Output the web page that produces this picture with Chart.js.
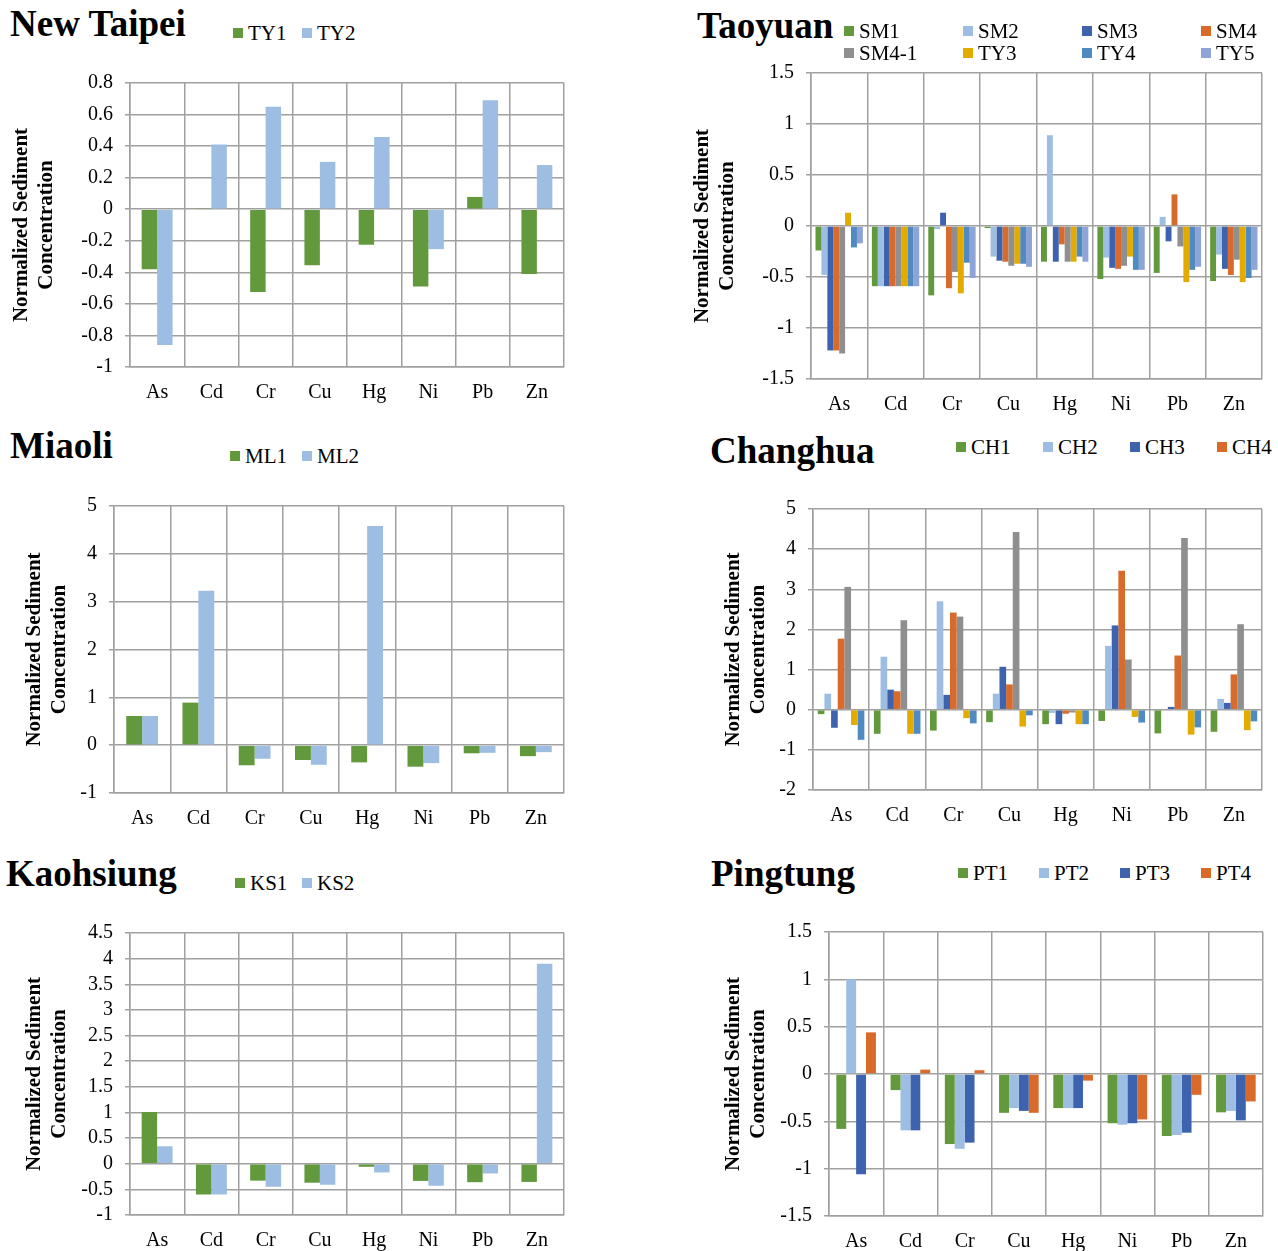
<!DOCTYPE html>
<html>
<head>
<meta charset="utf-8">
<title>Normalized Sediment Concentration by County</title>
<script src="https://cdn.jsdelivr.net/npm/chart.js@4.4.1/dist/chart.umd.min.js"></script>
<style>
  html, body { margin: 0; padding: 0; background: #fff; }
  #page { position: relative; width: 1278px; height: 1251px; overflow: hidden; font-family: "Liberation Serif", "Times New Roman", serif; }
  #page canvas { position: absolute; }
  .county { position: absolute; font-weight: bold; font-size: 37px; line-height: 36px; color: #000; white-space: nowrap; }
  .legend { position: absolute; display: flex; flex-wrap: wrap; font-size: 21px; color: #000; }
  .legend .item { display: flex; align-items: center; height: 22px; white-space: nowrap; }
  .legend .swatch { width: 10px; height: 10px; margin-right: 5px; flex: none; }
</style>
</head>
<body>
<div id="page"></div>
<script>
// Heavy metals on the category axis
const ELEMENTS = ['As', 'Cd', 'Cr', 'Cu', 'Hg', 'Ni', 'Pb', 'Zn'];

// New Taipei stations
const TY1 = [-0.38, 0.006, -0.525, -0.355, -0.225, -0.49, 0.078, -0.41];
const TY2 = [-0.86, 0.41, 0.65, 0.30, 0.457, -0.253, 0.69, 0.28];

// Taoyuan stations
const SM1 = [-0.24, -0.59, -0.68, -0.02, -0.35, -0.52, -0.46, -0.54];
const SM2 = [-0.48, -0.59, -0.03, -0.30, 0.89, -0.31, 0.09, -0.28];
const SM3 = [-1.22, -0.59, 0.13, -0.34, -0.35, -0.41, -0.15, -0.42];
const SM4 = [-1.22, -0.59, -0.61, -0.35, -0.18, -0.42, 0.31, -0.48];
const SM4_1 = [-1.25, -0.59, -0.45, -0.39, -0.35, -0.39, -0.20, -0.33];
const TY3 = [0.13, -0.59, -0.66, -0.37, -0.35, -0.30, -0.55, -0.55];
const TY4 = [-0.21, -0.59, -0.36, -0.37, -0.30, -0.43, -0.43, -0.51];
const TY5 = [-0.17, -0.59, -0.51, -0.40, -0.35, -0.43, -0.40, -0.43];

// Miaoli stations
const ML1 = [0.61, 0.89, -0.42, -0.31, -0.36, -0.45, -0.17, -0.23];
const ML2 = [0.61, 3.23, -0.285, -0.41, 4.58, -0.375, -0.16, -0.146];

// Changhua stations
const CH1 = [-0.11, -0.60, -0.52, -0.31, -0.36, -0.28, -0.59, -0.55];
const CH2 = [0.40, 1.32, 2.70, 0.40, -0.08, 1.59, 0.02, 0.27];
const CH3 = [-0.45, 0.50, 0.37, 1.07, -0.36, 2.10, 0.07, 0.17];
const CH4 = [1.77, 0.46, 2.42, 0.63, -0.10, 3.46, 1.35, 0.88];
const CH5 = [3.06, 2.23, 2.32, 4.43, -0.07, 1.25, 4.28, 2.13];
const CH6 = [-0.38, -0.60, -0.21, -0.42, -0.36, -0.18, -0.62, -0.51];
const CH7 = [-0.75, -0.60, -0.34, -0.14, -0.36, -0.32, -0.44, -0.29];

// Kaohsiung stations
const KS1 = [1.01, -0.60, -0.33, -0.37, -0.06, -0.335, -0.36, -0.355];
const KS2 = [0.34, -0.60, -0.45, -0.41, -0.17, -0.43, -0.19, 3.90];

// Pingtung stations
const PT1 = [-0.58, -0.17, -0.74, -0.41, -0.36, -0.52, -0.655, -0.405];
const PT2 = [1.00, -0.595, -0.79, -0.36, -0.36, -0.535, -0.645, -0.39];
const PT3 = [-1.06, -0.595, -0.725, -0.39, -0.36, -0.52, -0.62, -0.49];
const PT4 = [0.44, 0.046, 0.04, -0.41, -0.07, -0.48, -0.22, -0.29];

// Value-axis tick labels per county
const NEW_TAIPEI_TICKS = [-1, -0.8, -0.6, -0.4, -0.2, 0, 0.2, 0.4, 0.6, 0.8];
const TAOYUAN_TICKS = [-1.5, -1, -0.5, 0, 0.5, 1, 1.5];
const MIAOLI_TICKS = [-1, 0, 1, 2, 3, 4, 5];
const CHANGHUA_TICKS = [-2, -1, 0, 1, 2, 3, 4, 5];
const KAOHSIUNG_TICKS = [-1, -0.5, 0, 0.5, 1, 1.5, 2, 2.5, 3, 3.5, 4, 4.5];
const PINGTUNG_TICKS = [-1.5, -1, -0.5, 0, 0.5, 1, 1.5];

const AXIS_TITLE = ['Normalized Sediment', 'Concentration'];

// Series palette (Office-style)
const PALETTE = ['#63993D', '#9DBEE2', '#3D63AE', '#D86B2C', '#8F8F8F', '#E3AA00', '#4F8AC1', '#8EA3D6'];
const GRID = '#A0A0A0';
const SERIF = '"Liberation Serif", "Times New Roman", serif';

const panels = [
  {
    title: 'New Taipei', titleX: 10, titleBaseline: 37,
    series: [['TY1', TY1], ['TY2', TY2]], colors: [0, 1], legendCount: 2,
    ticks: NEW_TAIPEI_TICKS,
    box: { left: 8, top: 56, width: 572, height: 364 },
    plot: { left: 130, top: 83, right: 564, bottom: 367 },
    legend: { x: 233, cy: 33, col: 69, perRow: 2 },
    catPct: 0.57
  },
  {
    title: 'Taoyuan', titleX: 697, titleBaseline: 39,
    series: [['SM1', SM1], ['SM2', SM2], ['SM3', SM3], ['SM4', SM4], ['SM4-1', SM4_1], ['TY3', TY3], ['TY4', TY4], ['TY5', TY5]],
    colors: [0, 1, 2, 3, 4, 5, 6, 7], legendCount: 8,
    ticks: TAOYUAN_TICKS,
    box: { left: 689, top: 45, width: 589, height: 375 },
    plot: { left: 811, top: 73, right: 1262, bottom: 379 },
    legend: { x: 844, cy: 31, col: 119, perRow: 4 },
    catPct: 0.84
  },
  {
    title: 'Miaoli', titleX: 10, titleBaseline: 459,
    series: [['ML1', ML1], ['ML2', ML2]], colors: [0, 1], legendCount: 2,
    ticks: MIAOLI_TICKS,
    box: { left: 21, top: 478, width: 559, height: 362 },
    plot: { left: 114, top: 506, right: 564, bottom: 793 },
    legend: { x: 230, cy: 456, col: 72, perRow: 2 },
    catPct: 0.565
  },
  {
    title: 'Changhua', titleX: 710, titleBaseline: 464,
    series: [['CH1', CH1], ['CH2', CH2], ['CH3', CH3], ['CH4', CH4], ['CH5', CH5], ['CH6', CH6], ['CH7', CH7]],
    colors: [0, 1, 2, 3, 4, 5, 6], legendCount: 4,
    ticks: CHANGHUA_TICKS,
    box: { left: 720, top: 480, width: 558, height: 360 },
    plot: { left: 813, top: 509, right: 1262, bottom: 790 },
    legend: { x: 956, cy: 447, col: 87, perRow: 4 },
    catPct: 0.83
  },
  {
    title: 'Kaohsiung', titleX: 6, titleBaseline: 887,
    series: [['KS1', KS1], ['KS2', KS2]], colors: [0, 1], legendCount: 2,
    ticks: KAOHSIUNG_TICKS,
    box: { left: 21, top: 900, width: 559, height: 351 },
    plot: { left: 130, top: 933, right: 564, bottom: 1215 },
    legend: { x: 235, cy: 883, col: 67, perRow: 2 },
    catPct: 0.57
  },
  {
    title: 'Pingtung', titleX: 711, titleBaseline: 887,
    series: [['PT1', PT1], ['PT2', PT2], ['PT3', PT3], ['PT4', PT4]], colors: [0, 1, 2, 3], legendCount: 4,
    ticks: PINGTUNG_TICKS,
    box: { left: 720, top: 900, width: 558, height: 351 },
    plot: { left: 829, top: 932, right: 1263, bottom: 1216 },
    legend: { x: 958, cy: 873, col: 81, perRow: 4 },
    catPct: 0.73
  }
];

const page = document.getElementById('page');

function fmt(v) { return String(Number(v.toFixed(2))); }

function buildPanel(p) {
  // County name
  const t = document.createElement('div');
  t.className = 'county';
  t.textContent = p.title;
  t.style.left = p.titleX + 'px';
  t.style.top = (p.titleBaseline - 31) + 'px';
  page.appendChild(t);

  // Chart
  const c = document.createElement('canvas');
  c.width = p.box.width;
  c.height = p.box.height;
  c.style.left = p.box.left + 'px';
  c.style.top = p.box.top + 'px';
  page.appendChild(c);

  // Legend
  const lg = document.createElement('div');
  lg.className = 'legend';
  lg.style.left = p.legend.x + 'px';
  lg.style.top = (p.legend.cy - 11) + 'px';
  lg.style.width = (p.legend.col * p.legend.perRow) + 'px';
  p.series.slice(0, p.legendCount).forEach(([name], i) => {
    const it = document.createElement('div');
    it.className = 'item';
    it.style.width = p.legend.col + 'px';
    const sw = document.createElement('span');
    sw.className = 'swatch';
    sw.style.background = PALETTE[p.colors[i]];
    const tx = document.createElement('span');
    tx.textContent = name;
    it.appendChild(sw);
    it.appendChild(tx);
    lg.appendChild(it);
  });
  page.appendChild(lg);

  const yW = p.plot.left - p.box.left;
  const xH = p.box.top + p.box.height - p.plot.bottom;
  const padTop = p.plot.top - p.box.top;
  const padRight = p.box.left + p.box.width - p.plot.right;
  const ticks = p.ticks;

  new Chart(c, {
    type: 'bar',
    data: {
      labels: ELEMENTS,
      datasets: p.series.map(([name, values], i) => ({
        label: name,
        data: values,
        backgroundColor: PALETTE[p.colors[i]],
        borderWidth: 0,
        categoryPercentage: p.catPct,
        barPercentage: 1
      }))
    },
    options: {
      responsive: false,
      animation: false,
      devicePixelRatio: 1,
      layout: { padding: { top: padTop, right: padRight, bottom: 0, left: 0 } },
      plugins: { legend: { display: false }, tooltip: { enabled: false }, title: { display: false } },
      scales: {
        x: {
          type: 'category',
          offset: true,
          grid: { display: true, offset: true, color: GRID, lineWidth: 1.5, drawTicks: false },
          border: { display: true, color: GRID, width: 1.5 },
          ticks: { color: '#000', font: { family: SERIF, size: 20 }, padding: 14, autoSkip: false, maxRotation: 0, minRotation: 0 },
          afterFit: s => { s.height = xH; }
        },
        y: {
          type: 'linear',
          min: ticks[0],
          max: ticks[ticks.length - 1],
          afterBuildTicks: s => { s.ticks = ticks.map(v => ({ value: v })); },
          grid: { color: GRID, lineWidth: 1.5, drawTicks: true, tickLength: 5 },
          border: { display: true, color: GRID, width: 1.5 },
          ticks: { color: '#000', font: { family: SERIF, size: 20 }, padding: 12, autoSkip: false, callback: v => fmt(v) },
          title: {
            display: true,
            text: AXIS_TITLE,
            color: '#000',
            font: { family: SERIF, size: 21, weight: 'bold', lineHeight: 1.15 },
            padding: { top: 2, bottom: 0 }
          },
          afterFit: s => { s.width = yW; }
        }
      }
    }
  });
}

function draw() { panels.forEach(buildPanel); }

if (document.fonts && document.fonts.load) {
  Promise.all([
    document.fonts.load('20px "Liberation Serif"'),
    document.fonts.load('bold 21px "Liberation Serif"')
  ]).then(draw, draw);
} else {
  draw();
}
</script>
</body>
</html>
